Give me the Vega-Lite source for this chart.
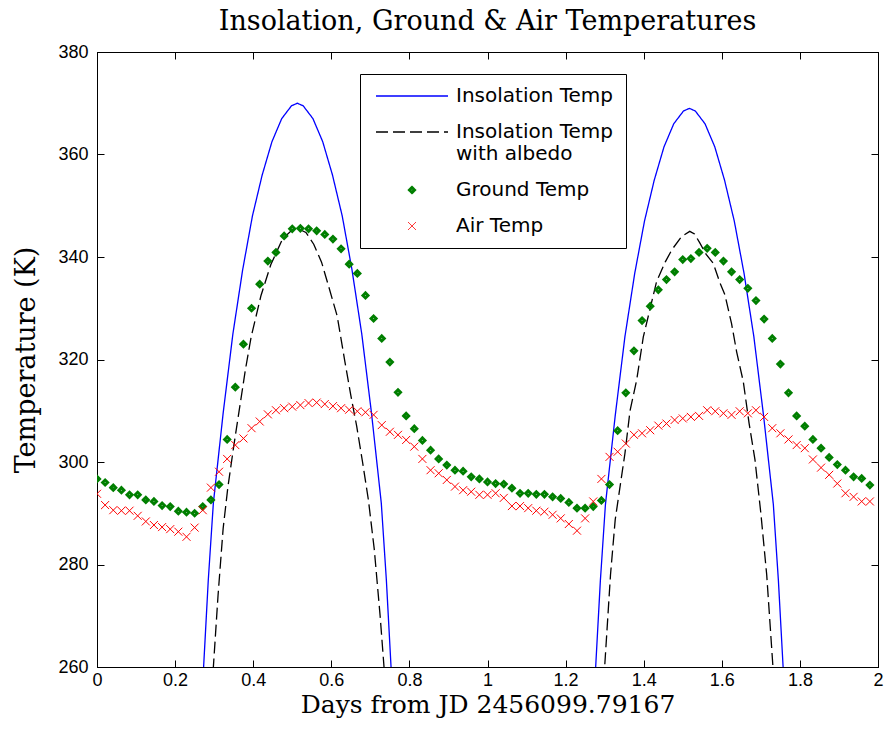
{
  "$schema": "https://vega.github.io/schema/vega-lite/v6.json",
  "width": 781,
  "height": 615,
  "autosize": {"type": "none"},
  "padding": {"left": 97, "top": 52, "right": 10, "bottom": 73},
  "background": "white",
  "title": {"text": "Insolation, Ground & Air Temperatures", "font": "DejaVu Serif", "fontSize": 27, "fontWeight": "normal", "color": "black", "offset": 7, "anchor": "middle"},
  "config": {
    "view": {"stroke": "black", "strokeWidth": 1},
    "axis": {"domainColor": "black", "tickColor": "black", "labelColor": "black", "titleColor": "black", "labelFont": "Liberation Sans", "labelFontSize": 18, "titleFont": "DejaVu Serif", "titleFontSize": 25, "titleFontWeight": "normal", "grid": false, "tickSize": -7, "labelFlush": false, "labelOverlap": false, "labelBound": false},
    "legend": {"orient": "none", "legendX": 263, "legendY": 22, "fillColor": "white", "strokeColor": "black", "padding": 12, "labelFont": "DejaVu Sans", "labelFontSize": 20, "labelColor": "black", "rowPadding": 16, "symbolOffset": 30, "labelOffset": 34}
  },
  "datasets": {
    "ins": [
      {"series": "Insolation Temp", "day": 0.267, "temp": 252},
      {"series": "Insolation Temp", "day": 0.273, "temp": 260},
      {"series": "Insolation Temp", "day": 0.285, "temp": 277},
      {"series": "Insolation Temp", "day": 0.298, "temp": 292},
      {"series": "Insolation Temp", "day": 0.323, "temp": 309.5},
      {"series": "Insolation Temp", "day": 0.348, "temp": 325},
      {"series": "Insolation Temp", "day": 0.373, "temp": 337.5},
      {"series": "Insolation Temp", "day": 0.398, "temp": 348},
      {"series": "Insolation Temp", "day": 0.423, "temp": 356},
      {"series": "Insolation Temp", "day": 0.448, "temp": 362.5},
      {"series": "Insolation Temp", "day": 0.473, "temp": 367},
      {"series": "Insolation Temp", "day": 0.498, "temp": 369.5},
      {"series": "Insolation Temp", "day": 0.513, "temp": 370},
      {"series": "Insolation Temp", "day": 0.528, "temp": 369.5},
      {"series": "Insolation Temp", "day": 0.553, "temp": 367},
      {"series": "Insolation Temp", "day": 0.578, "temp": 362.5},
      {"series": "Insolation Temp", "day": 0.603, "temp": 356},
      {"series": "Insolation Temp", "day": 0.628, "temp": 348},
      {"series": "Insolation Temp", "day": 0.653, "temp": 337.5},
      {"series": "Insolation Temp", "day": 0.678, "temp": 325},
      {"series": "Insolation Temp", "day": 0.703, "temp": 309.5},
      {"series": "Insolation Temp", "day": 0.728, "temp": 292},
      {"series": "Insolation Temp", "day": 0.741, "temp": 277},
      {"series": "Insolation Temp", "day": 0.753, "temp": 260},
      {"series": "Insolation Temp", "day": 0.759, "temp": 252},
      {"series": "Insolation Temp", "day": 1.271, "temp": 252},
      {"series": "Insolation Temp", "day": 1.277, "temp": 260},
      {"series": "Insolation Temp", "day": 1.289, "temp": 276.8},
      {"series": "Insolation Temp", "day": 1.302, "temp": 291.7},
      {"series": "Insolation Temp", "day": 1.327, "temp": 309},
      {"series": "Insolation Temp", "day": 1.352, "temp": 324.5},
      {"series": "Insolation Temp", "day": 1.377, "temp": 336.8},
      {"series": "Insolation Temp", "day": 1.402, "temp": 347},
      {"series": "Insolation Temp", "day": 1.427, "temp": 355},
      {"series": "Insolation Temp", "day": 1.452, "temp": 361.5},
      {"series": "Insolation Temp", "day": 1.477, "temp": 366},
      {"series": "Insolation Temp", "day": 1.502, "temp": 368.5},
      {"series": "Insolation Temp", "day": 1.517, "temp": 369},
      {"series": "Insolation Temp", "day": 1.532, "temp": 368.5},
      {"series": "Insolation Temp", "day": 1.557, "temp": 366},
      {"series": "Insolation Temp", "day": 1.582, "temp": 361.5},
      {"series": "Insolation Temp", "day": 1.607, "temp": 355},
      {"series": "Insolation Temp", "day": 1.632, "temp": 347},
      {"series": "Insolation Temp", "day": 1.657, "temp": 336.8},
      {"series": "Insolation Temp", "day": 1.682, "temp": 324.5},
      {"series": "Insolation Temp", "day": 1.707, "temp": 309},
      {"series": "Insolation Temp", "day": 1.732, "temp": 291.7},
      {"series": "Insolation Temp", "day": 1.745, "temp": 276.8},
      {"series": "Insolation Temp", "day": 1.757, "temp": 260},
      {"series": "Insolation Temp", "day": 1.763, "temp": 252},
      {"series": "Insolation Temp with albedo", "day": 0.295, "temp": 256},
      {"series": "Insolation Temp with albedo", "day": 0.298, "temp": 260},
      {"series": "Insolation Temp with albedo", "day": 0.31, "temp": 274},
      {"series": "Insolation Temp with albedo", "day": 0.323, "temp": 287},
      {"series": "Insolation Temp with albedo", "day": 0.335, "temp": 295},
      {"series": "Insolation Temp with albedo", "day": 0.35, "temp": 303},
      {"series": "Insolation Temp with albedo", "day": 0.365, "temp": 310.5},
      {"series": "Insolation Temp with albedo", "day": 0.38, "temp": 318},
      {"series": "Insolation Temp with albedo", "day": 0.395, "temp": 324.5},
      {"series": "Insolation Temp with albedo", "day": 0.42, "temp": 332.5},
      {"series": "Insolation Temp with albedo", "day": 0.445, "temp": 338.5},
      {"series": "Insolation Temp with albedo", "day": 0.475, "temp": 343.5},
      {"series": "Insolation Temp with albedo", "day": 0.5, "temp": 345.3},
      {"series": "Insolation Temp with albedo", "day": 0.515, "temp": 345.5},
      {"series": "Insolation Temp with albedo", "day": 0.535, "temp": 344.8},
      {"series": "Insolation Temp with albedo", "day": 0.555, "temp": 342.5},
      {"series": "Insolation Temp with albedo", "day": 0.575, "temp": 339},
      {"series": "Insolation Temp with albedo", "day": 0.595, "temp": 333.8},
      {"series": "Insolation Temp with albedo", "day": 0.615, "temp": 328.5},
      {"series": "Insolation Temp with albedo", "day": 0.635, "temp": 319.5},
      {"series": "Insolation Temp with albedo", "day": 0.65, "temp": 313},
      {"series": "Insolation Temp with albedo", "day": 0.665, "temp": 307},
      {"series": "Insolation Temp with albedo", "day": 0.68, "temp": 300},
      {"series": "Insolation Temp with albedo", "day": 0.695, "temp": 292.6},
      {"series": "Insolation Temp with albedo", "day": 0.71, "temp": 283},
      {"series": "Insolation Temp with albedo", "day": 0.725, "temp": 270},
      {"series": "Insolation Temp with albedo", "day": 0.735, "temp": 260},
      {"series": "Insolation Temp with albedo", "day": 0.738, "temp": 256},
      {"series": "Insolation Temp with albedo", "day": 1.296, "temp": 256},
      {"series": "Insolation Temp with albedo", "day": 1.3, "temp": 260},
      {"series": "Insolation Temp with albedo", "day": 1.315, "temp": 278},
      {"series": "Insolation Temp with albedo", "day": 1.327, "temp": 288.7},
      {"series": "Insolation Temp with albedo", "day": 1.34, "temp": 295.5},
      {"series": "Insolation Temp with albedo", "day": 1.352, "temp": 301.7},
      {"series": "Insolation Temp with albedo", "day": 1.365, "temp": 310},
      {"series": "Insolation Temp with albedo", "day": 1.382, "temp": 316},
      {"series": "Insolation Temp with albedo", "day": 1.399, "temp": 324.4},
      {"series": "Insolation Temp with albedo", "day": 1.415, "temp": 329.5},
      {"series": "Insolation Temp with albedo", "day": 1.433, "temp": 335.2},
      {"series": "Insolation Temp with albedo", "day": 1.455, "temp": 339},
      {"series": "Insolation Temp with albedo", "day": 1.472, "temp": 341.4},
      {"series": "Insolation Temp with albedo", "day": 1.497, "temp": 344},
      {"series": "Insolation Temp with albedo", "day": 1.518, "temp": 345},
      {"series": "Insolation Temp with albedo", "day": 1.53, "temp": 344.5},
      {"series": "Insolation Temp with albedo", "day": 1.544, "temp": 342.7},
      {"series": "Insolation Temp with albedo", "day": 1.56, "temp": 340.5},
      {"series": "Insolation Temp with albedo", "day": 1.578, "temp": 338.8},
      {"series": "Insolation Temp with albedo", "day": 1.595, "temp": 335},
      {"series": "Insolation Temp with albedo", "day": 1.608, "temp": 332.6},
      {"series": "Insolation Temp with albedo", "day": 1.625, "temp": 327},
      {"series": "Insolation Temp with albedo", "day": 1.638, "temp": 321.5},
      {"series": "Insolation Temp with albedo", "day": 1.655, "temp": 315.7},
      {"series": "Insolation Temp with albedo", "day": 1.67, "temp": 307.5},
      {"series": "Insolation Temp with albedo", "day": 1.685, "temp": 300.4},
      {"series": "Insolation Temp with albedo", "day": 1.7, "temp": 290},
      {"series": "Insolation Temp with albedo", "day": 1.715, "temp": 278},
      {"series": "Insolation Temp with albedo", "day": 1.731, "temp": 260},
      {"series": "Insolation Temp with albedo", "day": 1.734, "temp": 256}
    ],
    "obs": [
      {"series": "Ground Temp", "day": 0, "temp": 296.7},
      {"series": "Ground Temp", "day": 0.0208, "temp": 296.0},
      {"series": "Ground Temp", "day": 0.0417, "temp": 295.0},
      {"series": "Ground Temp", "day": 0.0625, "temp": 294.5},
      {"series": "Ground Temp", "day": 0.0833, "temp": 293.6},
      {"series": "Ground Temp", "day": 0.1042, "temp": 293.6},
      {"series": "Ground Temp", "day": 0.125, "temp": 292.6},
      {"series": "Ground Temp", "day": 0.1458, "temp": 292.3},
      {"series": "Ground Temp", "day": 0.1667, "temp": 291.5},
      {"series": "Ground Temp", "day": 0.1875, "temp": 291.3},
      {"series": "Ground Temp", "day": 0.2083, "temp": 290.4},
      {"series": "Ground Temp", "day": 0.2292, "temp": 290.2},
      {"series": "Ground Temp", "day": 0.25, "temp": 290.0},
      {"series": "Ground Temp", "day": 0.2708, "temp": 291.3},
      {"series": "Ground Temp", "day": 0.2917, "temp": 292.6},
      {"series": "Ground Temp", "day": 0.3125, "temp": 295.6},
      {"series": "Ground Temp", "day": 0.3333, "temp": 304.4},
      {"series": "Ground Temp", "day": 0.3542, "temp": 314.6},
      {"series": "Ground Temp", "day": 0.375, "temp": 323.0},
      {"series": "Ground Temp", "day": 0.3958, "temp": 330.0},
      {"series": "Ground Temp", "day": 0.4167, "temp": 334.7},
      {"series": "Ground Temp", "day": 0.4375, "temp": 339.2},
      {"series": "Ground Temp", "day": 0.4583, "temp": 340.9},
      {"series": "Ground Temp", "day": 0.4792, "temp": 344.1},
      {"series": "Ground Temp", "day": 0.5, "temp": 345.5},
      {"series": "Ground Temp", "day": 0.5208, "temp": 345.6},
      {"series": "Ground Temp", "day": 0.5417, "temp": 345.5},
      {"series": "Ground Temp", "day": 0.5625, "temp": 345.1},
      {"series": "Ground Temp", "day": 0.5833, "temp": 344.4},
      {"series": "Ground Temp", "day": 0.6042, "temp": 343.5},
      {"series": "Ground Temp", "day": 0.625, "temp": 341.6},
      {"series": "Ground Temp", "day": 0.6458, "temp": 338.6},
      {"series": "Ground Temp", "day": 0.6667, "temp": 336.8},
      {"series": "Ground Temp", "day": 0.6875, "temp": 332.5},
      {"series": "Ground Temp", "day": 0.7083, "temp": 328.0},
      {"series": "Ground Temp", "day": 0.7292, "temp": 324.1},
      {"series": "Ground Temp", "day": 0.75, "temp": 319.5},
      {"series": "Ground Temp", "day": 0.7708, "temp": 313.6},
      {"series": "Ground Temp", "day": 0.7917, "temp": 309.0},
      {"series": "Ground Temp", "day": 0.8125, "temp": 306.5},
      {"series": "Ground Temp", "day": 0.8333, "temp": 304.2},
      {"series": "Ground Temp", "day": 0.8542, "temp": 302.3},
      {"series": "Ground Temp", "day": 0.875, "temp": 300.6},
      {"series": "Ground Temp", "day": 0.8958, "temp": 299.4},
      {"series": "Ground Temp", "day": 0.9167, "temp": 298.4},
      {"series": "Ground Temp", "day": 0.9375, "temp": 298.2},
      {"series": "Ground Temp", "day": 0.9583, "temp": 297.1},
      {"series": "Ground Temp", "day": 0.9792, "temp": 296.7},
      {"series": "Ground Temp", "day": 1.0, "temp": 296.1},
      {"series": "Ground Temp", "day": 1.0208, "temp": 295.8},
      {"series": "Ground Temp", "day": 1.0417, "temp": 295.7},
      {"series": "Ground Temp", "day": 1.0625, "temp": 294.9},
      {"series": "Ground Temp", "day": 1.0833, "temp": 293.9},
      {"series": "Ground Temp", "day": 1.1042, "temp": 293.9},
      {"series": "Ground Temp", "day": 1.125, "temp": 293.7},
      {"series": "Ground Temp", "day": 1.1458, "temp": 293.7},
      {"series": "Ground Temp", "day": 1.1667, "temp": 293.2},
      {"series": "Ground Temp", "day": 1.1875, "temp": 292.9},
      {"series": "Ground Temp", "day": 1.2083, "temp": 292.1},
      {"series": "Ground Temp", "day": 1.2292, "temp": 291.0},
      {"series": "Ground Temp", "day": 1.25, "temp": 291.0},
      {"series": "Ground Temp", "day": 1.2708, "temp": 291.3},
      {"series": "Ground Temp", "day": 1.2917, "temp": 292.5},
      {"series": "Ground Temp", "day": 1.3125, "temp": 295.6},
      {"series": "Ground Temp", "day": 1.3333, "temp": 306.1},
      {"series": "Ground Temp", "day": 1.3542, "temp": 313.5},
      {"series": "Ground Temp", "day": 1.375, "temp": 321.7},
      {"series": "Ground Temp", "day": 1.3958, "temp": 327.6},
      {"series": "Ground Temp", "day": 1.4167, "temp": 330.4},
      {"series": "Ground Temp", "day": 1.4375, "temp": 333.6},
      {"series": "Ground Temp", "day": 1.4583, "temp": 335.6},
      {"series": "Ground Temp", "day": 1.4792, "temp": 337.1},
      {"series": "Ground Temp", "day": 1.5, "temp": 339.5},
      {"series": "Ground Temp", "day": 1.5208, "temp": 339.7},
      {"series": "Ground Temp", "day": 1.5417, "temp": 340.9},
      {"series": "Ground Temp", "day": 1.5625, "temp": 341.7},
      {"series": "Ground Temp", "day": 1.5833, "temp": 340.9},
      {"series": "Ground Temp", "day": 1.6042, "temp": 339.2},
      {"series": "Ground Temp", "day": 1.625, "temp": 337.1},
      {"series": "Ground Temp", "day": 1.6458, "temp": 335.6},
      {"series": "Ground Temp", "day": 1.6667, "temp": 333.9},
      {"series": "Ground Temp", "day": 1.6875, "temp": 331.5},
      {"series": "Ground Temp", "day": 1.7083, "temp": 327.9},
      {"series": "Ground Temp", "day": 1.7292, "temp": 324.1},
      {"series": "Ground Temp", "day": 1.75, "temp": 319.1},
      {"series": "Ground Temp", "day": 1.7708, "temp": 313.5},
      {"series": "Ground Temp", "day": 1.7917, "temp": 309.0},
      {"series": "Ground Temp", "day": 1.8125, "temp": 307.0},
      {"series": "Ground Temp", "day": 1.8333, "temp": 304.4},
      {"series": "Ground Temp", "day": 1.8542, "temp": 302.7},
      {"series": "Ground Temp", "day": 1.875, "temp": 300.9},
      {"series": "Ground Temp", "day": 1.8958, "temp": 299.5},
      {"series": "Ground Temp", "day": 1.9167, "temp": 298.4},
      {"series": "Ground Temp", "day": 1.9375, "temp": 297.1},
      {"series": "Ground Temp", "day": 1.9583, "temp": 296.8},
      {"series": "Ground Temp", "day": 1.9792, "temp": 295.5},
      {"series": "Air Temp", "day": 0, "temp": 293.8},
      {"series": "Air Temp", "day": 0.0208, "temp": 291.6},
      {"series": "Air Temp", "day": 0.0417, "temp": 290.6},
      {"series": "Air Temp", "day": 0.0625, "temp": 290.5},
      {"series": "Air Temp", "day": 0.0833, "temp": 290.5},
      {"series": "Air Temp", "day": 0.1042, "temp": 289.5},
      {"series": "Air Temp", "day": 0.125, "temp": 288.4},
      {"series": "Air Temp", "day": 0.1458, "temp": 287.7},
      {"series": "Air Temp", "day": 0.1667, "temp": 287.3},
      {"series": "Air Temp", "day": 0.1875, "temp": 286.9},
      {"series": "Air Temp", "day": 0.2083, "temp": 286.4},
      {"series": "Air Temp", "day": 0.2292, "temp": 285.4},
      {"series": "Air Temp", "day": 0.25, "temp": 287.2},
      {"series": "Air Temp", "day": 0.2708, "temp": 290.6},
      {"series": "Air Temp", "day": 0.2917, "temp": 295.0},
      {"series": "Air Temp", "day": 0.3125, "temp": 298.1},
      {"series": "Air Temp", "day": 0.3333, "temp": 300.6},
      {"series": "Air Temp", "day": 0.3542, "temp": 303.3},
      {"series": "Air Temp", "day": 0.375, "temp": 304.6},
      {"series": "Air Temp", "day": 0.3958, "temp": 306.6},
      {"series": "Air Temp", "day": 0.4167, "temp": 307.9},
      {"series": "Air Temp", "day": 0.4375, "temp": 309.3},
      {"series": "Air Temp", "day": 0.4583, "temp": 310.1},
      {"series": "Air Temp", "day": 0.4792, "temp": 310.5},
      {"series": "Air Temp", "day": 0.5, "temp": 310.8},
      {"series": "Air Temp", "day": 0.5208, "temp": 311.1},
      {"series": "Air Temp", "day": 0.5417, "temp": 311.5},
      {"series": "Air Temp", "day": 0.5625, "temp": 311.6},
      {"series": "Air Temp", "day": 0.5833, "temp": 311.3},
      {"series": "Air Temp", "day": 0.6042, "temp": 310.9},
      {"series": "Air Temp", "day": 0.625, "temp": 310.5},
      {"series": "Air Temp", "day": 0.6458, "temp": 310.2},
      {"series": "Air Temp", "day": 0.6667, "temp": 309.9},
      {"series": "Air Temp", "day": 0.6875, "temp": 309.7},
      {"series": "Air Temp", "day": 0.7083, "temp": 309.2},
      {"series": "Air Temp", "day": 0.7292, "temp": 307.2},
      {"series": "Air Temp", "day": 0.75, "temp": 305.9},
      {"series": "Air Temp", "day": 0.7708, "temp": 305.3},
      {"series": "Air Temp", "day": 0.7917, "temp": 304.3},
      {"series": "Air Temp", "day": 0.8125, "temp": 303.0},
      {"series": "Air Temp", "day": 0.8333, "temp": 300.6},
      {"series": "Air Temp", "day": 0.8542, "temp": 298.4},
      {"series": "Air Temp", "day": 0.875, "temp": 297.8},
      {"series": "Air Temp", "day": 0.8958, "temp": 296.5},
      {"series": "Air Temp", "day": 0.9167, "temp": 295.2},
      {"series": "Air Temp", "day": 0.9375, "temp": 294.5},
      {"series": "Air Temp", "day": 0.9583, "temp": 294.2},
      {"series": "Air Temp", "day": 0.9792, "temp": 293.6},
      {"series": "Air Temp", "day": 1.0, "temp": 293.6},
      {"series": "Air Temp", "day": 1.0208, "temp": 293.9},
      {"series": "Air Temp", "day": 1.0417, "temp": 293.0},
      {"series": "Air Temp", "day": 1.0625, "temp": 291.4},
      {"series": "Air Temp", "day": 1.0833, "temp": 291.4},
      {"series": "Air Temp", "day": 1.1042, "temp": 291.0},
      {"series": "Air Temp", "day": 1.125, "temp": 290.5},
      {"series": "Air Temp", "day": 1.1458, "temp": 290.3},
      {"series": "Air Temp", "day": 1.1667, "temp": 289.7},
      {"series": "Air Temp", "day": 1.1875, "temp": 289.0},
      {"series": "Air Temp", "day": 1.2083, "temp": 287.9},
      {"series": "Air Temp", "day": 1.2292, "temp": 286.6},
      {"series": "Air Temp", "day": 1.25, "temp": 289.0},
      {"series": "Air Temp", "day": 1.2708, "temp": 292.3},
      {"series": "Air Temp", "day": 1.2917, "temp": 296.7},
      {"series": "Air Temp", "day": 1.3125, "temp": 301.0},
      {"series": "Air Temp", "day": 1.3333, "temp": 302.0},
      {"series": "Air Temp", "day": 1.3542, "temp": 303.6},
      {"series": "Air Temp", "day": 1.375, "temp": 305.3},
      {"series": "Air Temp", "day": 1.3958, "temp": 305.6},
      {"series": "Air Temp", "day": 1.4167, "temp": 306.2},
      {"series": "Air Temp", "day": 1.4375, "temp": 307.1},
      {"series": "Air Temp", "day": 1.4583, "temp": 307.5},
      {"series": "Air Temp", "day": 1.4792, "temp": 308.2},
      {"series": "Air Temp", "day": 1.5, "temp": 308.5},
      {"series": "Air Temp", "day": 1.5208, "temp": 308.8},
      {"series": "Air Temp", "day": 1.5417, "temp": 309.0},
      {"series": "Air Temp", "day": 1.5625, "temp": 310.1},
      {"series": "Air Temp", "day": 1.5833, "temp": 309.9},
      {"series": "Air Temp", "day": 1.6042, "temp": 309.5},
      {"series": "Air Temp", "day": 1.625, "temp": 309.2},
      {"series": "Air Temp", "day": 1.6458, "temp": 309.9},
      {"series": "Air Temp", "day": 1.6667, "temp": 309.5},
      {"series": "Air Temp", "day": 1.6875, "temp": 310.1},
      {"series": "Air Temp", "day": 1.7083, "temp": 308.8},
      {"series": "Air Temp", "day": 1.7292, "temp": 306.6},
      {"series": "Air Temp", "day": 1.75, "temp": 305.6},
      {"series": "Air Temp", "day": 1.7708, "temp": 304.4},
      {"series": "Air Temp", "day": 1.7917, "temp": 303.3},
      {"series": "Air Temp", "day": 1.8125, "temp": 302.7},
      {"series": "Air Temp", "day": 1.8333, "temp": 300.5},
      {"series": "Air Temp", "day": 1.8542, "temp": 298.9},
      {"series": "Air Temp", "day": 1.875, "temp": 297.5},
      {"series": "Air Temp", "day": 1.8958, "temp": 295.8},
      {"series": "Air Temp", "day": 1.9167, "temp": 293.9},
      {"series": "Air Temp", "day": 1.9375, "temp": 293.2},
      {"series": "Air Temp", "day": 1.9583, "temp": 292.3},
      {"series": "Air Temp", "day": 1.9792, "temp": 292.3}
    ]
  },
  "layer": [
    {
      "data": {"name": "ins"},
      "mark": {"type": "line", "clip": true},
      "encoding": {
        "x": {"field": "day", "type": "quantitative", "scale": {"domain": [0, 2], "nice": false, "zero": false}, "axis": {"orient": "bottom", "values": [0, 0.2, 0.4, 0.6, 0.8, 1, 1.2, 1.4, 1.6, 1.8, 2], "format": "~g", "title": "Days from JD 2456099.79167", "labelPadding": 11, "titlePadding": 3}},
        "y": {"field": "temp", "type": "quantitative", "scale": {"domain": [260, 380], "nice": false, "zero": false}, "axis": {"orient": "left", "values": [260, 280, 300, 320, 340, 360, 380], "title": "Temperature (K)", "titleFontSize": 27, "labelPadding": 16, "titlePadding": 17}},
        "color": {"field": "series", "type": "nominal", "scale": {"domain": ["Insolation Temp", "Insolation Temp with albedo", "Ground Temp", "Air Temp"], "range": ["#0000ff", "#000000", "#007f00", "#ff0000"]}, "legend": {"title": null, "labelExpr": "datum.label == 'Insolation Temp with albedo' ? ['Insolation Temp', 'with albedo'] : datum.label"}},
        "strokeDash": {"field": "series", "type": "nominal", "scale": {"domain": ["Insolation Temp", "Insolation Temp with albedo", "Ground Temp", "Air Temp"], "range": [[1, 0], [12, 5], [1, 0], [1, 0]]}, "legend": {"title": null}},
        "strokeWidth": {"field": "series", "type": "nominal", "scale": {"type": "ordinal", "domain": ["Insolation Temp", "Insolation Temp with albedo", "Ground Temp", "Air Temp"], "range": [1.3, 1.3, 3, 1]}, "legend": {"title": null}}
      }
    },
    {
      "data": {"name": "obs"},
      "mark": {"type": "point", "clip": true, "opacity": 1, "filled": false},
      "encoding": {
        "x": {"field": "day", "type": "quantitative", "axis": null},
        "y": {"field": "temp", "type": "quantitative", "axis": null},
        "color": {"field": "series", "type": "nominal", "scale": {"domain": ["Insolation Temp", "Insolation Temp with albedo", "Ground Temp", "Air Temp"], "range": ["#0000ff", "#000000", "#007f00", "#ff0000"]}, "legend": {"title": null, "labelExpr": "datum.label == 'Insolation Temp with albedo' ? ['Insolation Temp', 'with albedo'] : datum.label"}},
        "shape": {"field": "series", "type": "nominal", "scale": {"domain": ["Insolation Temp", "Insolation Temp with albedo", "Ground Temp", "Air Temp"], "range": ["M-4,0H4", "M-4,0H4", "diamond", "M-1,-1L1,1M-1,1L1,-1"]}, "legend": {"title": null}},
        "size": {"field": "series", "type": "nominal", "scale": {"type": "ordinal", "domain": ["Insolation Temp", "Insolation Temp with albedo", "Ground Temp", "Air Temp"], "range": [324, 324, 25, 64]}, "legend": {"title": null}},
        "strokeWidth": {"field": "series", "type": "nominal", "scale": {"type": "ordinal", "domain": ["Insolation Temp", "Insolation Temp with albedo", "Ground Temp", "Air Temp"], "range": [1.3, 1.3, 3, 1]}, "legend": {"title": null}}
      }
    },
    {
      "data": {"name": "obs"},
      "mark": {"type": "point", "opacity": 0},
      "encoding": {
        "x": {"field": "day", "type": "quantitative", "axis": {"orient": "top", "values": [0, 0.2, 0.4, 0.6, 0.8, 1, 1.2, 1.4, 1.6, 1.8, 2], "labels": false, "title": null}},
        "y": {"field": "temp", "type": "quantitative", "axis": {"orient": "right", "values": [260, 280, 300, 320, 340, 360, 380], "labels": false, "title": null}}
      }
    }
  ],
  "resolve": {"axis": {"x": "independent", "y": "independent"}}
}
